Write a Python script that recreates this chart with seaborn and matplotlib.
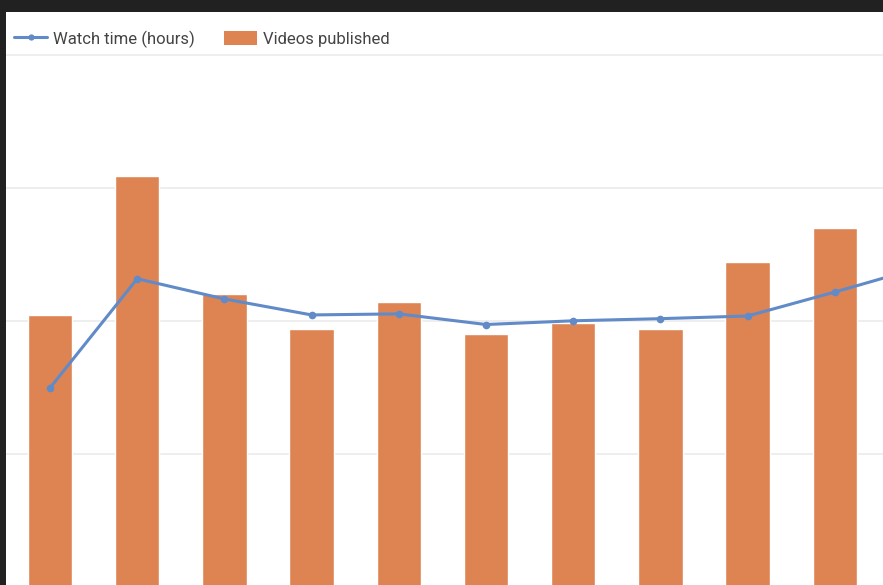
import matplotlib
matplotlib.use("Agg")
import matplotlib.pyplot as plt
import seaborn as sns
from matplotlib.lines import Line2D
from matplotlib.patches import Patch

# data (no axis labels are visible)
periods = list(range(10))
videos_published = [10.2, 15.45, 11.0, 9.7, 10.7, 9.5, 9.9, 9.7, 12.2, 13.5]
watch_periods = list(range(11))
watch_hours = [374, 579, 541, 511, 513, 493, 500, 504, 509, 554, 601]

bar_color = "#dd8452"
line_color = "#618ac8"
grid_color = "#ebebeb"

sns.set_theme(style="white")
plt.rcParams["font.family"] = ["Roboto", "DejaVu Sans"]

fig = plt.figure(figsize=(8.83, 5.85), dpi=100, facecolor="#212121")
ax = fig.add_axes([6 / 883, 0, 877 / 883, 573 / 585])
ax.set_facecolor("white")

# bars on the left scale (gridlines every 5)
sns.barplot(x=periods, y=videos_published, color=bar_color, width=0.51,
            saturation=1, ax=ax, zorder=2)
for y in [5, 10, 15, 20]:
    ax.axhline(y, color=grid_color, lw=1.2, zorder=0)
ax.set_xlim(-0.505, 9.553)
ax.set_ylim(0.075, 21.6)

# line on a twin scale (gridlines every 250 hours)
ax2 = ax.twinx()
sns.lineplot(x=watch_periods, y=watch_hours, color=line_color, lw=2.2,
             marker="o", markersize=5.5, markeredgewidth=0, ax=ax2)
ax2.set_xlim(-0.505, 9.553)
ax2.set_ylim(3.75, 1080)

for a in (ax, ax2):
    a.set_xticks([])
    a.set_yticks([])
    a.set_xlabel("")
    a.set_ylabel("")
    for s in a.spines.values():
        s.set_visible(False)

handles = [
    Line2D([0], [0], color=line_color, lw=2.2, marker="o", markersize=4.5, markeredgewidth=0),
    Patch(facecolor=bar_color, edgecolor="none"),
]
fig.legend(handles, ["Watch time (hours)", "Videos published"], loc="center left",
           bbox_to_anchor=(14 / 883, 1 - 39 / 585), ncol=2, frameon=False,
           fontsize=12, labelcolor="#444444", handlelength=2.0, handleheight=0.9,
           handletextpad=0.35, columnspacing=1.75, borderpad=0, borderaxespad=0)

fig.savefig("out.png", dpi=100, facecolor=fig.get_facecolor())
